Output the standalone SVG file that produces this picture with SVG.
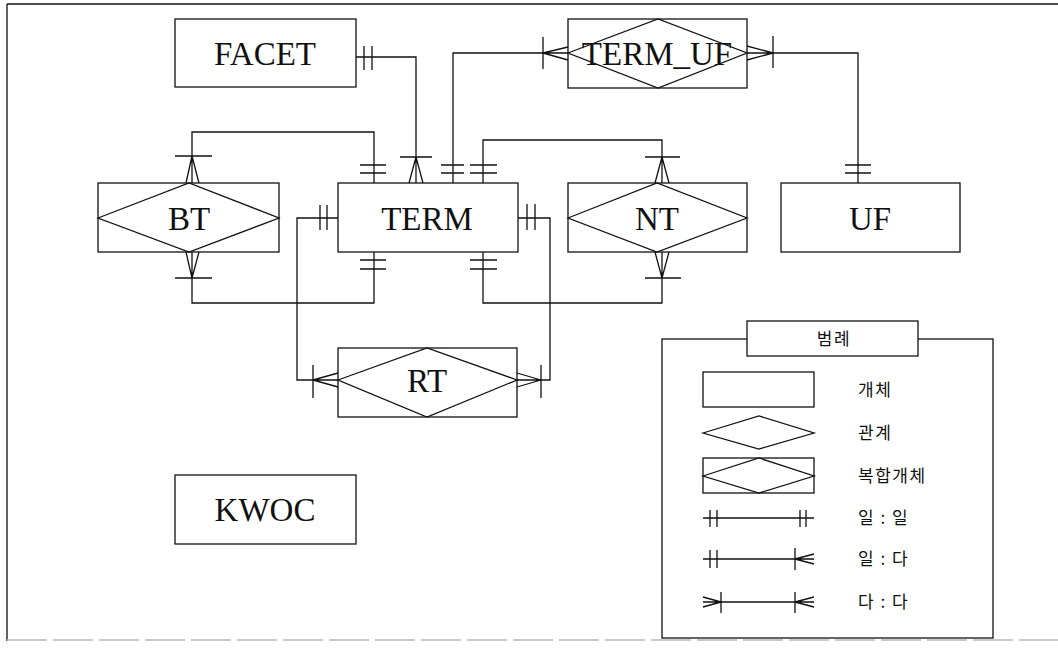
<svg xmlns="http://www.w3.org/2000/svg" width="1058" height="651" viewBox="0 0 1058 651">
<style>
.s{fill:none;stroke:#111;stroke-width:1.3}
.b{fill:#fff;stroke:#111;stroke-width:1.3}
.t{font-family:"Liberation Serif",serif;font-size:33px;fill:#111;text-anchor:middle}
.k{font-family:"Noto Sans CJK KR",sans-serif;font-size:17px;fill:#111;letter-spacing:1.5px}
</style>
<rect width="1058" height="651" fill="#fff"/>
<g id="frame" class="s">
<path d="M7,4 H1058 M7,4 V641"/>
<path d="M7,640 H1058" stroke="#bbb" stroke-dasharray="40 6"/>
</g>
<g id="connectors" class="s">
<!-- FACET - TERM -->
<path d="M356,57 H416 V183 M364,46 V70 M372,46 V70 M400,157 H432 M416,157 L409,183 M416,157 L423,183"/>
<!-- TERM_UF - TERM -->
<path d="M568,53 H453 V183 M543,37 V69 M543,53 L568,47 M543,53 L568,60 M441,165 H464 M441,173 H464"/>
<!-- TERM_UF - UF -->
<path d="M747,53 H858 V183 M773,36 V68 M773,53 L747,46 M773,53 L747,60 M845,165 H871 M845,173 H871"/>
<!-- TERM - NT top -->
<path d="M483,183 V140 H662 V183 M470,165 H497 M470,173 H497 M645,157 H680 M662,157 L655,183 M662,157 L669,183"/>
<!-- TERM - BT top -->
<path d="M374,183 V132 H192 V183 M360,165 H386 M360,173 H386 M175,156 H212 M192,156 L186,183 M192,156 L199,183"/>
<!-- BT bottom - TERM -->
<path d="M192,252 V303 H374 V252 M175,278 H212 M192,278 L186,252 M192,278 L199,252 M360,260 H386 M360,269 H386"/>
<!-- NT bottom - TERM -->
<path d="M662,252 V303 H483 V252 M645,278 H681 M662,278 L655,252 M662,278 L669,252 M470,260 H497 M470,269 H497"/>
<!-- TERM left - RT -->
<path d="M338,218 H297 V380 H338 M320,205 V230 M327,205 V230 M313,365 V398 M313,380 L338,373 M313,380 L338,387"/>
<!-- TERM right - RT -->
<path d="M518,218 H550 V380 H517 M527,204 V230 M535,204 V230 M541,365 V398 M541,380 L517,373 M541,380 L517,387"/>
</g>
<g id="FACET">
<rect class="b" x="175" y="19" width="181" height="68"/>
<text class="t" x="265" y="65">FACET</text>
</g>
<g id="TERM_UF">
<rect class="b" x="568" y="19" width="179" height="69"/>
<path class="s" d="M568,53 L658,19 L747,53 L658,88 Z"/>
<text class="t" x="657" y="65">TERM_UF</text>
</g>
<g id="BT">
<rect class="b" x="98" y="183" width="181" height="69"/>
<path class="s" d="M98,218 L189,183 L279,218 L189,252 Z"/>
<text class="t" x="189" y="230">BT</text>
</g>
<g id="TERM">
<rect class="b" x="338" y="183" width="180" height="69"/>
<text class="t" x="427" y="230">TERM</text>
</g>
<g id="NT">
<rect class="b" x="568" y="183" width="179" height="69"/>
<path class="s" d="M568,218 L657,183 L747,218 L657,252 Z"/>
<text class="t" x="657" y="230">NT</text>
</g>
<g id="UF">
<rect class="b" x="781" y="183" width="179" height="69"/>
<text class="t" x="870" y="230">UF</text>
</g>
<g id="RT">
<rect class="b" x="338" y="348" width="179" height="69"/>
<path class="s" d="M338,380 L427,348 L517,380 L427,417 Z"/>
<text class="t" x="427" y="392">RT</text>
</g>
<g id="KWOC">
<rect class="b" x="175" y="475" width="181" height="69"/>
<text class="t" x="265" y="521">KWOC</text>
</g>
<g id="legend">
<rect class="b" x="662" y="339" width="331" height="299"/>
<rect class="b" x="747" y="321" width="171" height="35"/>
<text class="k" x="834" y="345" text-anchor="middle">범례</text>
<rect class="s" x="703" y="372" width="111" height="35"/>
<text class="k" x="858" y="396">개체</text>
<path class="s" d="M703,433 L759,416 L814,433 L759,449 Z"/>
<text class="k" x="858" y="439">관계</text>
<rect class="s" x="703" y="458" width="111" height="35"/>
<path class="s" d="M703,476 L759,458 L814,476 L759,493 Z"/>
<text class="k" x="858" y="482">복합개체</text>
<path class="s" d="M703,518 H814 M710,510 V527 M717,510 V527 M800,510 V527 M806,510 V527"/>
<text class="k" x="858" y="524">일 : 일</text>
<path class="s" d="M703,559 H814 M710,550 V568 M717,550 V568 M795,548 V570 M795,559 L814,554 M795,559 L814,564"/>
<text class="k" x="858" y="565">일 : 다</text>
<path class="s" d="M703,602 H814 M721,592 V613 M721,602 L703,597 M721,602 L703,607 M795,592 V613 M795,602 L814,597 M795,602 L814,607"/>
<text class="k" x="858" y="608">다 : 다</text>
</g>
</svg>
